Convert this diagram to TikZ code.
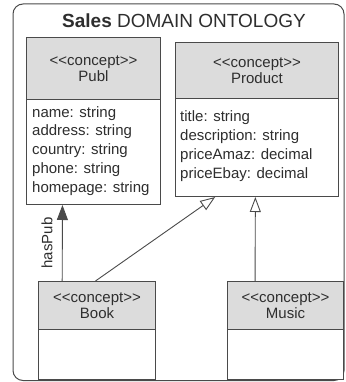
\documentclass[tikz,border=0pt]{standalone}
\usepackage{fontspec}
\setmainfont{Liberation Sans}
\usetikzlibrary{arrows.meta,calc}
\definecolor{linec}{HTML}{4A4A4A}
\definecolor{hdrfill}{HTML}{DCDCDC}
\definecolor{txtc}{HTML}{2E2E2E}
\newcommand\stereo{<\kern0pt<concept>\kern0pt>}
\tikzset{
  hdr/.style={draw=linec, line width=1pt, fill=hdrfill, anchor=north west, inner sep=0pt,
    align=center, text=txtc, font=\fontsize{15}{16}\selectfont},
  bodybox/.style={draw=linec, line width=1pt, fill=white, anchor=north west, inner sep=0pt},
  attrs/.style={anchor=base west, inner sep=0pt, align=left, text=txtc, font=\fontsize{15}{18.7}\selectfont},
  conn/.style={draw=linec, line width=0.9pt},
  gen/.style={conn, -{Triangle[open, width=11pt, length=15pt, fill=white]}},
  assoc/.style={conn, -{Triangle[width=11pt, length=15pt]}},
}
\begin{document}
\begin{tikzpicture}[x=1pt, y=-1pt]
\useasboundingbox (0,0) rectangle (345,382);
% frame
\draw[draw=linec, line width=1pt, rounded corners=10pt] (13,4) rectangle (344,380.5);
\node[anchor=base, text=txtc, font=\fontsize{19}{22}\selectfont] (title) at (184,28) {\textbf{Sales} DOMAIN ONTOLOGY};
% Publ
\node[bodybox, minimum width=134pt, minimum height=105pt] (publb) at (26,99) {};
\node[hdr, minimum width=134pt, minimum height=62pt] (publh) at (26,37) {\stereo\\Publ};
\node[attrs] (publa) at (32,192) {name: string\\address: string\\country: string\\phone: string\\homepage: string};
% Product
\node[bodybox, minimum width=163pt, minimum height=98pt] (prodb) at (175,98) {};
\node[hdr, minimum width=163pt, minimum height=56pt] (prodh) at (175,42) {\stereo\\Product};
\node[attrs] (proda) at (180,178) {title: string\\description: string\\priceAmaz: decimal\\priceEbay: decimal};
% Book
\node[bodybox, minimum width=117pt, minimum height=50pt] (bookb) at (38,329) {};
\node[hdr, minimum width=117pt, minimum height=48pt] (bookh) at (38,281) {\stereo\\Book};
% Music
\node[bodybox, minimum width=116pt, minimum height=50pt] (musicb) at (227,329) {};
\node[hdr, minimum width=116pt, minimum height=48pt] (musich) at (227,281) {\stereo\\Music};
% connectors
\draw[assoc] ($(bookh.north west)!0.205!(bookh.north east)$) -- ($(publb.south west)!0.27!(publb.south east)$)
  node[midway, left=6pt, rotate=90, anchor=south, text=txtc, font=\fontsize{15}{16}\selectfont] (haspub) {hasPub};
\draw[gen] ($(bookh.north west)!0.487!(bookh.north east)$) -- ($(prodb.south west)!0.245!(prodb.south east)$);
\draw[gen] ($(musich.north west)!0.24!(musich.north east)$) -- ($(prodb.south west)!0.49!(prodb.south east)$);
\end{tikzpicture}
\end{document}
